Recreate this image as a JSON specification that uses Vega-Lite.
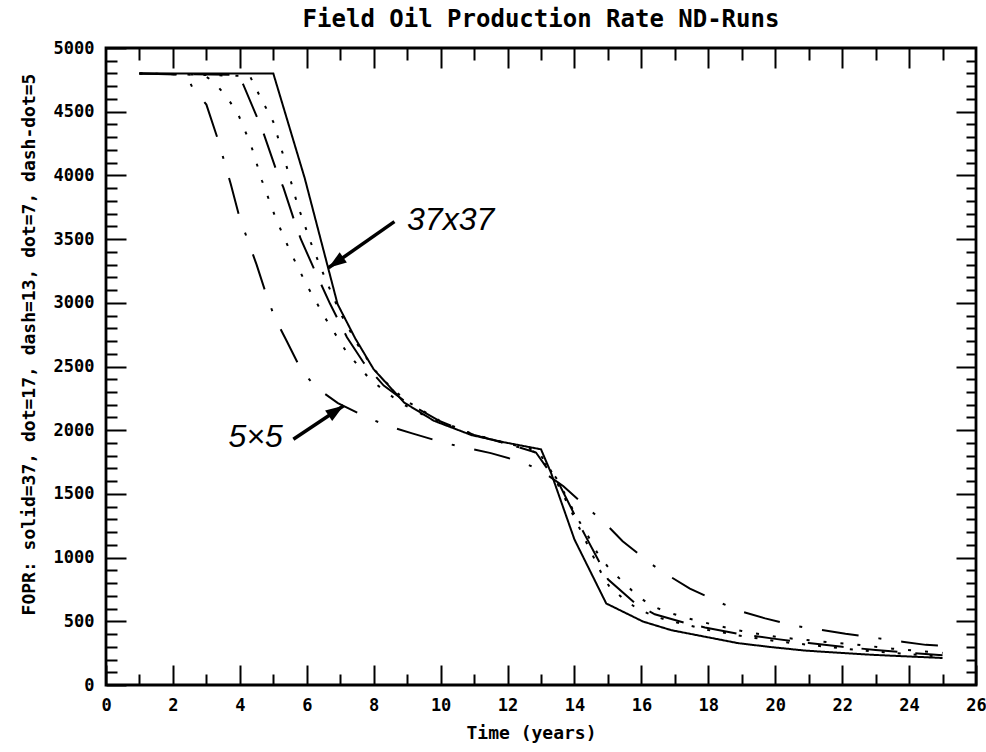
{
  "$schema": "https://vega.github.io/schema/vega-lite/v6.json",
  "width": 870,
  "height": 637,
  "autosize": {"type": "none"},
  "padding": {"left": 106, "top": 48, "right": 10, "bottom": 67},
  "background": "white",
  "config": {
    "view": {"stroke": "black", "strokeWidth": 2.8},
    "axis": {
      "domain": false,
      "grid": false,
      "tickColor": "black",
      "tickWidth": 2,
      "labelFont": "DejaVu Sans Mono",
      "labelFontSize": 17,
      "labelFontWeight": "bold",
      "labelColor": "black",
      "titleFont": "DejaVu Sans Mono",
      "titleFontWeight": "bold",
      "titleColor": "black"
    }
  },
  "title": {
    "text": "Field Oil Production Rate ND-Runs",
    "font": "DejaVu Sans Mono",
    "fontSize": 24,
    "fontWeight": "bold",
    "color": "black",
    "anchor": "middle",
    "offset": 7
  },
  "datasets": {
    "runs": [
      {"run": "solid=37", "t": 1.0, "fopr": 4800}, {"run": "solid=37", "t": 5.0, "fopr": 4800},
      {"run": "solid=37", "t": 5.94, "fopr": 3977}, {"run": "solid=37", "t": 6.92, "fopr": 2990},
      {"run": "solid=37", "t": 7.45, "fopr": 2720}, {"run": "solid=37", "t": 8.0, "fopr": 2478},
      {"run": "solid=37", "t": 8.91, "fopr": 2217}, {"run": "solid=37", "t": 9.8, "fopr": 2074},
      {"run": "solid=37", "t": 10.93, "fopr": 1961}, {"run": "solid=37", "t": 11.92, "fopr": 1904},
      {"run": "solid=37", "t": 13.0, "fopr": 1850}, {"run": "solid=37", "t": 13.3, "fopr": 1665},
      {"run": "solid=37", "t": 14.0, "fopr": 1142}, {"run": "solid=37", "t": 14.95, "fopr": 640},
      {"run": "solid=37", "t": 16.05, "fopr": 498}, {"run": "solid=37", "t": 16.9, "fopr": 430},
      {"run": "solid=37", "t": 17.9, "fopr": 379}, {"run": "solid=37", "t": 18.9, "fopr": 328},
      {"run": "solid=37", "t": 19.9, "fopr": 297}, {"run": "solid=37", "t": 20.9, "fopr": 270},
      {"run": "solid=37", "t": 21.9, "fopr": 253}, {"run": "solid=37", "t": 22.9, "fopr": 237},
      {"run": "solid=37", "t": 23.9, "fopr": 225}, {"run": "solid=37", "t": 25.0, "fopr": 212},

      {"run": "dot=17", "t": 1.0, "fopr": 4800}, {"run": "dot=17", "t": 4.3, "fopr": 4780},
      {"run": "dot=17", "t": 4.6, "fopr": 4620}, {"run": "dot=17", "t": 5.0, "fopr": 4420},
      {"run": "dot=17", "t": 5.42, "fopr": 4050}, {"run": "dot=17", "t": 5.73, "fopr": 3764},
      {"run": "dot=17", "t": 6.15, "fopr": 3452}, {"run": "dot=17", "t": 6.55, "fopr": 3191},
      {"run": "dot=17", "t": 7.0, "fopr": 2920}, {"run": "dot=17", "t": 7.5, "fopr": 2680},
      {"run": "dot=17", "t": 8.0, "fopr": 2480}, {"run": "dot=17", "t": 8.5, "fopr": 2340},
      {"run": "dot=17", "t": 9.0, "fopr": 2225}, {"run": "dot=17", "t": 10.0, "fopr": 2070},
      {"run": "dot=17", "t": 11.0, "fopr": 1965}, {"run": "dot=17", "t": 12.0, "fopr": 1895},
      {"run": "dot=17", "t": 12.9, "fopr": 1840}, {"run": "dot=17", "t": 13.3, "fopr": 1680},
      {"run": "dot=17", "t": 13.8, "fopr": 1420}, {"run": "dot=17", "t": 14.3, "fopr": 1150},
      {"run": "dot=17", "t": 14.8, "fopr": 880}, {"run": "dot=17", "t": 15.05, "fopr": 770},
      {"run": "dot=17", "t": 15.45, "fopr": 680}, {"run": "dot=17", "t": 15.9, "fopr": 595},
      {"run": "dot=17", "t": 16.45, "fopr": 534}, {"run": "dot=17", "t": 17.0, "fopr": 494},
      {"run": "dot=17", "t": 18.0, "fopr": 432}, {"run": "dot=17", "t": 19.0, "fopr": 385},
      {"run": "dot=17", "t": 20.0, "fopr": 345}, {"run": "dot=17", "t": 21.0, "fopr": 315},
      {"run": "dot=17", "t": 22.0, "fopr": 287}, {"run": "dot=17", "t": 23.0, "fopr": 262},
      {"run": "dot=17", "t": 24.0, "fopr": 242}, {"run": "dot=17", "t": 25.0, "fopr": 222},

      {"run": "dash=13", "t": 1.0, "fopr": 4800}, {"run": "dash=13", "t": 3.9, "fopr": 4790},
      {"run": "dash=13", "t": 4.1, "fopr": 4714}, {"run": "dash=13", "t": 4.52, "fopr": 4453},
      {"run": "dash=13", "t": 4.72, "fopr": 4322}, {"run": "dash=13", "t": 5.08, "fopr": 4048},
      {"run": "dash=13", "t": 5.3, "fopr": 3906}, {"run": "dash=13", "t": 5.61, "fopr": 3658},
      {"run": "dash=13", "t": 5.82, "fopr": 3501}, {"run": "dash=13", "t": 6.24, "fopr": 3253},
      {"run": "dash=13", "t": 6.7, "fopr": 2990}, {"run": "dash=13", "t": 7.2, "fopr": 2730},
      {"run": "dash=13", "t": 7.7, "fopr": 2530}, {"run": "dash=13", "t": 8.3, "fopr": 2350},
      {"run": "dash=13", "t": 9.0, "fopr": 2215}, {"run": "dash=13", "t": 10.0, "fopr": 2068},
      {"run": "dash=13", "t": 11.0, "fopr": 1963}, {"run": "dash=13", "t": 12.0, "fopr": 1892},
      {"run": "dash=13", "t": 12.85, "fopr": 1825}, {"run": "dash=13", "t": 13.25, "fopr": 1675},
      {"run": "dash=13", "t": 13.55, "fopr": 1573}, {"run": "dash=13", "t": 14.0, "fopr": 1338},
      {"run": "dash=13", "t": 14.3, "fopr": 1184}, {"run": "dash=13", "t": 14.75, "fopr": 962},
      {"run": "dash=13", "t": 15.0, "fopr": 830}, {"run": "dash=13", "t": 15.8, "fopr": 645},
      {"run": "dash=13", "t": 16.4, "fopr": 555}, {"run": "dash=13", "t": 17.3, "fopr": 488},
      {"run": "dash=13", "t": 17.9, "fopr": 452}, {"run": "dash=13", "t": 18.9, "fopr": 402},
      {"run": "dash=13", "t": 20.0, "fopr": 362}, {"run": "dash=13", "t": 21.0, "fopr": 330},
      {"run": "dash=13", "t": 22.0, "fopr": 300}, {"run": "dash=13", "t": 23.0, "fopr": 275},
      {"run": "dash=13", "t": 24.0, "fopr": 253}, {"run": "dash=13", "t": 25.0, "fopr": 234},

      {"run": "dot=7", "t": 1.0, "fopr": 4800}, {"run": "dot=7", "t": 2.9, "fopr": 4790},
      {"run": "dot=7", "t": 3.2, "fopr": 4740}, {"run": "dot=7", "t": 3.6, "fopr": 4620},
      {"run": "dot=7", "t": 3.95, "fopr": 4480}, {"run": "dot=7", "t": 4.34, "fopr": 4232},
      {"run": "dot=7", "t": 4.66, "fopr": 3960}, {"run": "dot=7", "t": 5.06, "fopr": 3672},
      {"run": "dot=7", "t": 5.49, "fopr": 3411}, {"run": "dot=7", "t": 6.0, "fopr": 3138},
      {"run": "dot=7", "t": 6.56, "fopr": 2877}, {"run": "dot=7", "t": 7.18, "fopr": 2617},
      {"run": "dot=7", "t": 7.9, "fopr": 2396}, {"run": "dot=7", "t": 8.8, "fopr": 2214},
      {"run": "dot=7", "t": 9.5, "fopr": 2118}, {"run": "dot=7", "t": 10.2, "fopr": 2040},
      {"run": "dot=7", "t": 11.0, "fopr": 1966}, {"run": "dot=7", "t": 12.0, "fopr": 1893},
      {"run": "dot=7", "t": 12.8, "fopr": 1830}, {"run": "dot=7", "t": 13.2, "fopr": 1710},
      {"run": "dot=7", "t": 13.5, "fopr": 1610}, {"run": "dot=7", "t": 14.06, "fopr": 1320},
      {"run": "dot=7", "t": 14.41, "fopr": 1168}, {"run": "dot=7", "t": 14.71, "fopr": 1024},
      {"run": "dot=7", "t": 15.06, "fopr": 907}, {"run": "dot=7", "t": 15.42, "fopr": 817},
      {"run": "dot=7", "t": 15.87, "fopr": 703}, {"run": "dot=7", "t": 16.3, "fopr": 622},
      {"run": "dot=7", "t": 16.8, "fopr": 570}, {"run": "dot=7", "t": 17.4, "fopr": 523},
      {"run": "dot=7", "t": 18.2, "fopr": 470}, {"run": "dot=7", "t": 19.0, "fopr": 424},
      {"run": "dot=7", "t": 20.1, "fopr": 375}, {"run": "dot=7", "t": 21.2, "fopr": 346},
      {"run": "dot=7", "t": 22.4, "fopr": 318}, {"run": "dot=7", "t": 23.5, "fopr": 285},
      {"run": "dot=7", "t": 25.0, "fopr": 252},

      {"run": "dash-dot=5", "t": 1.0, "fopr": 4800}, {"run": "dash-dot=5", "t": 2.4, "fopr": 4790},
      {"run": "dash-dot=5", "t": 2.6, "fopr": 4680}, {"run": "dash-dot=5", "t": 3.0, "fopr": 4556},
      {"run": "dash-dot=5", "t": 3.36, "fopr": 4270}, {"run": "dash-dot=5", "t": 3.73, "fopr": 3930},
      {"run": "dash-dot=5", "t": 4.0, "fopr": 3660}, {"run": "dash-dot=5", "t": 4.25, "fopr": 3483},
      {"run": "dash-dot=5", "t": 4.5, "fopr": 3300}, {"run": "dash-dot=5", "t": 4.82, "fopr": 3040},
      {"run": "dash-dot=5", "t": 5.05, "fopr": 2880}, {"run": "dash-dot=5", "t": 5.4, "fopr": 2700},
      {"run": "dash-dot=5", "t": 5.84, "fopr": 2470}, {"run": "dash-dot=5", "t": 6.3, "fopr": 2330},
      {"run": "dash-dot=5", "t": 6.93, "fopr": 2213}, {"run": "dash-dot=5", "t": 7.83, "fopr": 2096},
      {"run": "dash-dot=5", "t": 8.5, "fopr": 2027}, {"run": "dash-dot=5", "t": 9.15, "fopr": 1975},
      {"run": "dash-dot=5", "t": 10.15, "fopr": 1897}, {"run": "dash-dot=5", "t": 10.8, "fopr": 1860},
      {"run": "dash-dot=5", "t": 11.5, "fopr": 1820}, {"run": "dash-dot=5", "t": 12.5, "fopr": 1745},
      {"run": "dash-dot=5", "t": 13.1, "fopr": 1665}, {"run": "dash-dot=5", "t": 13.67, "fopr": 1560},
      {"run": "dash-dot=5", "t": 14.45, "fopr": 1377}, {"run": "dash-dot=5", "t": 14.95, "fopr": 1260},
      {"run": "dash-dot=5", "t": 15.44, "fopr": 1129}, {"run": "dash-dot=5", "t": 16.3, "fopr": 948},
      {"run": "dash-dot=5", "t": 16.9, "fopr": 845}, {"run": "dash-dot=5", "t": 17.45, "fopr": 757},
      {"run": "dash-dot=5", "t": 18.4, "fopr": 641}, {"run": "dash-dot=5", "t": 19.0, "fopr": 576},
      {"run": "dash-dot=5", "t": 19.7, "fopr": 523}, {"run": "dash-dot=5", "t": 20.7, "fopr": 459},
      {"run": "dash-dot=5", "t": 21.4, "fopr": 432}, {"run": "dash-dot=5", "t": 22.1, "fopr": 402},
      {"run": "dash-dot=5", "t": 23.1, "fopr": 366}, {"run": "dash-dot=5", "t": 23.8, "fopr": 340},
      {"run": "dash-dot=5", "t": 24.5, "fopr": 315}, {"run": "dash-dot=5", "t": 25.0, "fopr": 308}
    ],
    "notes": [
      {"note": "37x37", "t": 10.3, "fopr": 3650},
      {"note": "5×5", "t": 4.47, "fopr": 1950}
    ],
    "arrows": [
      {"note": "37x37", "t": 8.62, "fopr": 3637, "t_tip": 6.65, "fopr_tip": 3275},
      {"note": "5×5", "t": 5.6, "fopr": 1929, "t_tip": 7.1, "fopr_tip": 2192}
    ]
  },
  "layer": [
    {
      "data": {"name": "runs"},
      "mark": {"type": "line", "color": "black", "strokeWidth": 2, "strokeCap": "butt"},
      "encoding": {
        "x": {
          "field": "t", "type": "quantitative",
          "scale": {"domain": [0, 26], "nice": false},
          "axis": {
            "orient": "bottom",
            "values": [0,1,2,3,4,5,6,7,8,9,10,11,12,13,14,15,16,17,18,19,20,21,22,23,24,25,26],
            "format": "d",
            "labelExpr": "datum.value % 2 === 0 ? datum.label : ''",
            "labelOverlap": false,
            "labelFlush": false,
            "labelBaseline": "top",
            "labelPadding": 32,
            "tickSize": {"condition": {"test": "datum.value % 2 === 0", "value": -20}, "value": -11},
            "title": "Time (years)",
            "titleFontSize": 18,
            "titleX": 425,
            "titleY": 48,
            "titleAlign": "center",
            "titleBaseline": "middle"
          }
        },
        "y": {
          "field": "fopr", "type": "quantitative",
          "scale": {"domain": [0, 5000], "nice": false},
          "axis": {
            "orient": "left",
            "values": [0,100,200,300,400,500,600,700,800,900,1000,1100,1200,1300,1400,1500,1600,1700,1800,1900,2000,2100,2200,2300,2400,2500,2600,2700,2800,2900,3000,3100,3200,3300,3400,3500,3600,3700,3800,3900,4000,4100,4200,4300,4400,4500,4600,4700,4800,4900,5000],
            "format": "d",
            "labelExpr": "datum.value % 500 === 0 ? datum.label : ''",
            "labelOverlap": false,
            "labelFlush": false,
            "labelBaseline": "middle",
            "labelPadding": 32,
            "tickSize": {"condition": {"test": "datum.value % 500 === 0", "value": -20}, "value": -11},
            "title": "FOPR: solid=37, dot=17, dash=13, dot=7, dash-dot=5",
            "titleFontSize": 18,
            "titleAngle": 270,
            "titleX": -77,
            "titleY": 296,
            "titleAlign": "center",
            "titleBaseline": "middle"
          }
        },
        "strokeDash": {
          "field": "run", "type": "nominal",
          "scale": {
            "domain": ["solid=37", "dot=17", "dash=13", "dot=7", "dash-dot=5"],
            "range": [[1, 0], [3, 13], [36, 18], [3, 14], [37, 20, 3, 20]]
          },
          "legend": null
        }
      }
    },
    {
      "data": {"name": "notes"},
      "mark": {"type": "text", "font": "Liberation Sans", "fontStyle": "italic", "fontSize": 32, "color": "black", "align": "center", "baseline": "middle"},
      "encoding": {
        "x": {
          "field": "t", "type": "quantitative",
          "scale": {"domain": [0, 26], "nice": false},
          "axis": {
            "orient": "top",
            "values": [1,2,3,4,5,6,7,8,9,10,11,12,13,14,15,16,17,18,19,20,21,22,23,24,25],
            "labels": false,
            "title": null,
            "tickSize": {"condition": {"test": "datum.value % 2 === 0", "value": -20}, "value": -12}
          }
        },
        "y": {
          "field": "fopr", "type": "quantitative",
          "scale": {"domain": [0, 5000], "nice": false},
          "axis": {
            "orient": "right",
            "values": [100,200,300,400,500,600,700,800,900,1000,1100,1200,1300,1400,1500,1600,1700,1800,1900,2000,2100,2200,2300,2400,2500,2600,2700,2800,2900,3000,3100,3200,3300,3400,3500,3600,3700,3800,3900,4000,4100,4200,4300,4400,4500,4600,4700,4800,4900],
            "labels": false,
            "title": null,
            "tickSize": {"condition": {"test": "datum.value % 500 === 0", "value": -20}, "value": -10}
          }
        },
        "text": {"field": "note"}
      }
    },
    {
      "data": {"name": "arrows"},
      "mark": {"type": "rule", "color": "black", "strokeWidth": 3.5},
      "encoding": {
        "x": {"field": "t", "type": "quantitative", "scale": {"domain": [0, 26], "nice": false}, "axis": null},
        "y": {"field": "fopr", "type": "quantitative", "scale": {"domain": [0, 5000], "nice": false}, "axis": null},
        "x2": {"field": "t_tip"},
        "y2": {"field": "fopr_tip"}
      }
    },
    {
      "data": {"name": "arrows"},
      "transform": [{"filter": "datum.note === '37x37'"}],
      "mark": {"type": "point", "shape": "M0,0L0.35,1L-0.35,1Z", "filled": true, "color": "black", "opacity": 1, "size": 1296, "angle": 235},
      "encoding": {
        "x": {"field": "t_tip", "type": "quantitative", "scale": {"domain": [0, 26], "nice": false}, "axis": null},
        "y": {"field": "fopr_tip", "type": "quantitative", "scale": {"domain": [0, 5000], "nice": false}, "axis": null}
      }
    },
    {
      "data": {"name": "arrows"},
      "transform": [{"filter": "datum.note === '5×5'"}],
      "mark": {"type": "point", "shape": "M0,0L0.35,1L-0.35,1Z", "filled": true, "color": "black", "opacity": 1, "size": 1296, "angle": 56},
      "encoding": {
        "x": {"field": "t_tip", "type": "quantitative", "scale": {"domain": [0, 26], "nice": false}, "axis": null},
        "y": {"field": "fopr_tip", "type": "quantitative", "scale": {"domain": [0, 5000], "nice": false}, "axis": null}
      }
    }
  ],
  "resolve": {"axis": {"x": "independent", "y": "independent"}}
}
